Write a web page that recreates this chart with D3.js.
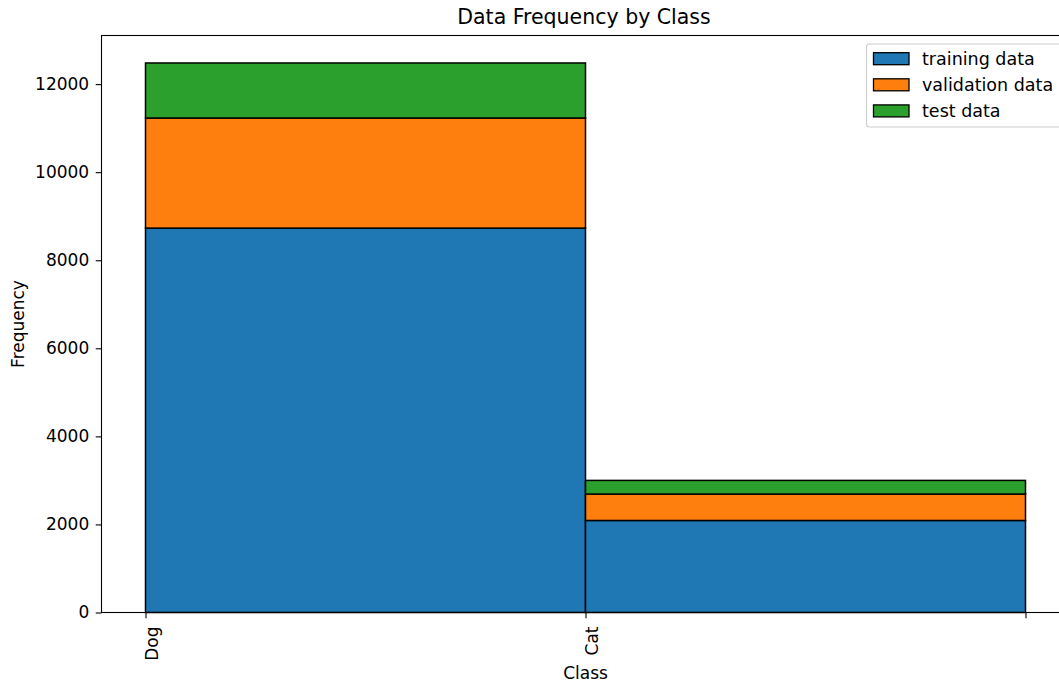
<!DOCTYPE html>
<html>
<head>
<meta charset="utf-8">
<script src="https://cdn.jsdelivr.net/npm/d3@7"></script>
<style>
  html, body { margin: 0; padding: 0; background: #fff; }
  svg { display: block; font-family: "DejaVu Sans", sans-serif; }
</style>
</head>
<body>
<svg id="chart" width="1059" height="684"></svg>
<script>
// ---- data ----
const classes = ["Dog", "Cat"];
const trainingData = [8730, 2090];
const validationData = [2500, 600];
const testData = [1250, 310];
const seriesNames = ["training data", "validation data", "test data"];
const seriesColors = ["#1f77b4", "#ff7f0e", "#2ca02c"];
const xTickValues = [0, 1, 2];
const xTickLabels = ["Dog", "Cat", ""];
const yTickValues = [0, 2000, 4000, 6000, 8000, 10000, 12000];
const titleText = "Data Frequency by Class";
const xLabelText = "Class";
const yLabelText = "Frequency";

// ---- layout ----
const svg = d3.select("#chart");
const axLeft = 101.5, axRight = 1069.5, axTop = 35.5, axBottom = 612.5;
const fs = 17;
const legendFs = 17.5;

const table = classes.map((c, i) => ({
  cls: c, idx: i,
  "training data": trainingData[i],
  "validation data": validationData[i],
  "test data": testData[i]
}));
const stacked = d3.stack().keys(seriesNames)(table);
const maxTotal = d3.max(stacked[stacked.length - 1], d => d[1]);

const x = d3.scaleLinear().domain([-0.1, 2.1]).range([axLeft, axRight]);
const y = d3.scaleLinear().domain([0, maxTotal * 1.05]).range([axBottom, axTop]);
const color = d3.scaleOrdinal().domain(seriesNames).range(seriesColors);

// bars
svg.append("g").selectAll("g").data(stacked).join("g")
  .attr("fill", d => color(d.key))
  .selectAll("rect").data(d => d).join("rect")
  .attr("x", d => x(d.data.idx))
  .attr("width", d => x(d.data.idx + 1) - x(d.data.idx))
  .attr("y", d => y(d[1]))
  .attr("height", d => y(d[0]) - y(d[1]))
  .attr("stroke", "#000")
  .attr("stroke-width", 1.5);

// axes
const yAxis = d3.axisLeft(y).tickValues(yTickValues).tickFormat(d3.format("d"))
  .tickSize(5.8).tickPadding(6.5);
const gy = svg.append("g").attr("transform", `translate(${axLeft},0)`).call(yAxis);
gy.select(".domain").remove();
gy.selectAll(".tick line").attr("stroke", "#000").attr("stroke-width", 1.1);
gy.selectAll(".tick text").attr("font-size", fs).attr("font-family", "DejaVu Sans").attr("fill", "#000");

const xAxis = d3.axisBottom(x).tickValues(xTickValues).tickFormat((d, i) => xTickLabels[i])
  .tickSize(5.8).tickPadding(5.5);
const gx = svg.append("g").attr("transform", `translate(0,${axBottom})`).call(xAxis);
gx.select(".domain").remove();
gx.selectAll(".tick line").attr("stroke", "#000").attr("stroke-width", 1.1);
gx.selectAll(".tick text")
  .attr("font-size", fs).attr("font-family", "DejaVu Sans").attr("fill", "#000")
  .attr("transform", "rotate(-90)")
  .attr("text-anchor", "end")
  .attr("x", -14).attr("y", 0).attr("dy", "0.72em");

// spines
svg.append("rect")
  .attr("x", axLeft).attr("y", axTop)
  .attr("width", axRight - axLeft).attr("height", axBottom - axTop)
  .attr("fill", "none").attr("stroke", "#000").attr("stroke-width", 1.1);

// title and labels
svg.append("text").attr("x", (axLeft + axRight) / 2 - 1.5).attr("y", 24)
  .attr("text-anchor", "middle").attr("font-size", 20.5).attr("fill", "#000")
  .text(titleText);
svg.append("text").attr("x", (axLeft + axRight) / 2).attr("y", 678.5)
  .attr("text-anchor", "middle").attr("font-size", fs).attr("fill", "#000")
  .text(xLabelText);
svg.append("text")
  .attr("transform", `translate(23.5,${(axTop + axBottom) / 2}) rotate(-90)`)
  .attr("text-anchor", "middle").attr("font-size", fs).attr("fill", "#000")
  .text(yLabelText);

// legend
const lg = svg.append("g");
lg.append("rect").attr("x", 866.5).attr("y", 44).attr("width", 195).attr("height", 83)
  .attr("rx", 3).attr("fill", "#fff").attr("fill-opacity", 0.8)
  .attr("stroke", "#cccccc").attr("stroke-width", 1.1);
const rows = lg.selectAll("g.row").data(seriesNames).join("g").attr("class", "row")
  .attr("transform", (d, i) => `translate(0,${58.7 + i * 26.1})`);
rows.append("rect").attr("x", 873.5).attr("y", -6).attr("width", 35.5).attr("height", 12)
  .attr("fill", d => color(d)).attr("stroke", "#000").attr("stroke-width", 1.3);
rows.append("text").attr("x", 922).attr("y", 0).attr("dy", "0.35em")
  .attr("font-size", legendFs).attr("fill", "#000").text(d => d);
</script>
</body>
</html>
